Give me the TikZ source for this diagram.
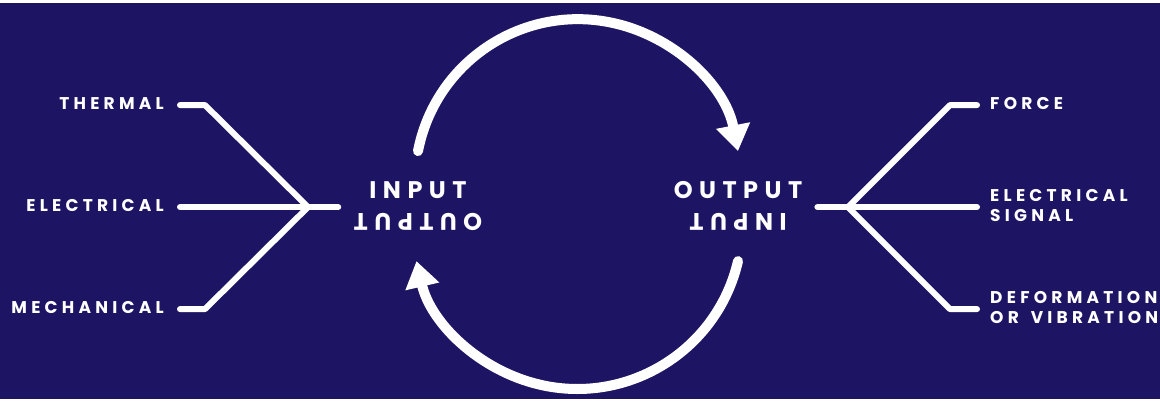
\documentclass[tikz,border=0pt]{standalone}
\usepackage{fontspec}
\usetikzlibrary{arrows.meta}

\newfontfamily\tagfont[LetterSpace=25]{Poppins}
\newfontfamily\rolefont[LetterSpace=27]{Poppins}
\definecolor{navy}{RGB}{29,21,99}

\begin{document}
\begin{tikzpicture}[
  x=1pt, y=-1pt,
  tag/.style={text=white, inner sep=0pt, align=left, font=\tagfont\bfseries\fontsize{17}{20}\selectfont},
  role/.style={text=white, inner sep=0pt, text height=17pt, text depth=0pt, font=\rolefont\bfseries\fontsize{24}{24}\selectfont},
  wire/.style={white, line width=6pt, line cap=round, line join=round},
  loop/.style={white, line width=10pt, line cap=round, -{Triangle[length=26pt,width=33pt]}}
]

% background
\fill[navy] (0,0) rectangle (1160,396);

% transducer in the middle: two faces
\node (inL) [role] at (418,187) {INPUT};
\node (outL) [role, rotate=180] at (418,219) {OUTPUT};
\node (outR) [role] at (738,187) {OUTPUT};
\node (inR) [role, rotate=180] at (738,219) {INPUT};

% energy forms going in
\node (thermal) [tag, anchor=east] at (164,100) {THERMAL};
\node (electrical) [tag, anchor=east] at (164,202) {ELECTRICAL};
\node (mechanical) [tag, anchor=east] at (164,304) {MECHANICAL};

% energy forms coming out
\node (force) [tag, anchor=west] at (990,100) {FORCE};
\node (signal) [tag, anchor=west] at (990,202) {ELECTRICAL\\SIGNAL};
\node (vibration) [tag, anchor=west] at (990,304) {DEFORMATION\\OR\hspace{4pt} VIBRATION};

\coordinate (lj) at (308,204);
\coordinate (rj) at (848,204);

% fan-in on the left
\draw[wire] ([shift={(16,2)}]thermal.east) -- ++(25,0) -- (lj);
\draw[wire] ([shift={(16,2)}]mechanical.east) -- ++(25,0) -- (lj);
\draw[wire] ([shift={(16,2)}]electrical.east) -- ([xshift=-31]inL.west |- lj);

% fan-out on the right
\draw[wire] (rj) -- ++(102,-102) -- ([shift={(-13,2)}]force.west);
\draw[wire] (rj) -- ++(102,102) -- ([shift={(-13,2)}]vibration.west);
\draw[wire] ([shift={(-13,2)}]signal.west) -- ([xshift=15]outR.east |- rj);

% the cycle between both faces
\coordinate (topstart) at (418,148);
\coordinate (botstart) at (738,258);
\draw[loop] (topstart) arc[start angle=-169, end angle=-11, radius=163];
\draw[loop] (botstart) arc[start angle=13, end angle=167, radius=165];

\end{tikzpicture}
\end{document}
